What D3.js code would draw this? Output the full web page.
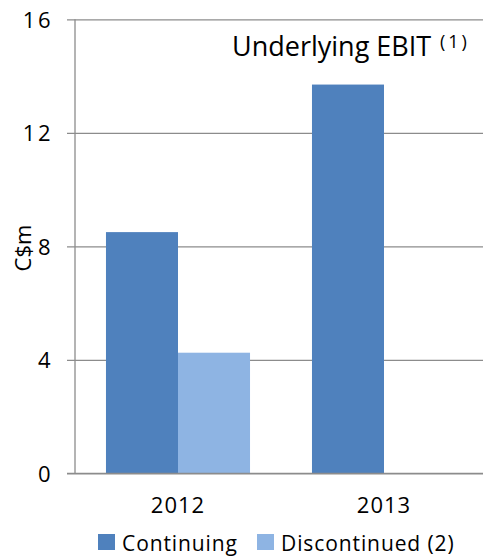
<!DOCTYPE html>
<html>
<head>
<meta charset="utf-8">
<script src="https://cdn.jsdelivr.net/npm/d3@7"></script>
<style>
  html, body { margin: 0; padding: 0; background: #fff; }
  svg { display: block; font-family: "Open Sans", "Liberation Sans", sans-serif; }
  svg text { font-family: "Open Sans", "Liberation Sans", sans-serif; fill: #000; }
</style>
</head>
<body>
<svg id="chart" width="483" height="556"></svg>
<script>
// Underlying EBIT by year, split into continuing and discontinued operations (C$m)
const years = ["2012", "2013"];
const seriesNames = ["Continuing", "Discontinued (2)"];
const continuing = [8.5, 13.7];
const discontinued = [4.25, 0];
const yTicks = [0, 4, 8, 12, 16];
const colors = ["#4F81BD", "#8EB4E3"];

const svg = d3.select("#chart");
const W = 483;
const plot = { left: 75, right: 487, top: 19.3, bottom: 473.3 };
const gridColor = "#8c8c8c";

const y = d3.scaleLinear().domain([0, 16]).range([plot.bottom, plot.top]);
const x0 = d3.scaleBand().domain(years).range([plot.left, plot.right]).padding(0);
const x1 = d3.scaleBand().domain(seriesNames).range([0, x0.bandwidth()])
  .paddingInner(0).paddingOuter(0.43);

// horizontal gridlines that start as outer tick marks left of the axis
const yAxis = d3.axisLeft(y).tickValues(yTicks).tickFormat(d3.format("d"));
const gy = svg.append("g").attr("transform", `translate(${plot.left - 8},0)`).call(yAxis)
  .attr("font-family", null).attr("font-size", null);
gy.select(".domain").remove();
gy.selectAll(".tick line")
  .attr("x1", 0).attr("x2", W - plot.left + 8)
  .attr("stroke", gridColor).attr("stroke-width", 1.3);
gy.selectAll(".tick text")
  .attr("x", -14).attr("dy", "0.36em")
  .attr("text-anchor", "end")
  .style("font-size", "22px").style("letter-spacing", "2.5px");

// vertical axis line
svg.append("line")
  .attr("x1", plot.left).attr("x2", plot.left)
  .attr("y1", plot.top).attr("y2", plot.bottom)
  .attr("stroke", gridColor).attr("stroke-width", 1.3);

// grouped bars
const rows = years.map((yr, i) => ({ year: yr, values: [continuing[i], discontinued[i]] }));
const groups = svg.append("g").selectAll("g").data(rows).join("g")
  .attr("transform", d => `translate(${x0(d.year)},0)`);
groups.selectAll("rect")
  .data(d => d.values.map((v, j) => ({ key: seriesNames[j], v, j })).filter(e => e.v > 0))
  .join("rect")
  .attr("x", d => x1(d.key))
  .attr("width", x1.bandwidth())
  .attr("y", d => y(d.v))
  .attr("height", d => y(0) - y(d.v))
  .attr("fill", d => colors[d.j]);

// baseline drawn over the bars
svg.append("line")
  .attr("x1", plot.left - 8).attr("x2", W)
  .attr("y1", y(0)).attr("y2", y(0))
  .attr("stroke", gridColor).attr("stroke-width", 1.3);

// category labels
svg.append("g").selectAll("text").data(years).join("text")
  .attr("x", d => x0(d) + x0.bandwidth() / 2)
  .attr("y", 513)
  .attr("text-anchor", "middle")
  .style("font-size", "22px").style("letter-spacing", "1px")
  .text(d => d);

// y-axis title
svg.append("text")
  .attr("transform", "translate(31,248) rotate(-90)")
  .attr("text-anchor", "middle")
  .style("font-size", "22px")
  .text("C$m");

// chart title with superscript note
const title = svg.append("text")
  .attr("x", 232).attr("y", 56)
  .style("font-size", "27px");
title.append("tspan").text("Underlying EBIT");
title.append("tspan").attr("x", 440).attr("y", 47.5)
  .style("font-size", "18px").style("letter-spacing", "3px").text("(1)");

// legend
const legendX = [98, 257];
const lg = svg.append("g").selectAll("g").data(seriesNames).join("g")
  .attr("transform", (d, i) => `translate(${legendX[i]},534)`);
lg.append("rect").attr("width", 17).attr("height", 16).attr("fill", (d, i) => colors[i]);
lg.append("text").attr("x", 24).attr("y", 17)
  .style("font-size", "21px").style("letter-spacing", "0.9px")
  .text(d => d);
</script>
</body>
</html>
